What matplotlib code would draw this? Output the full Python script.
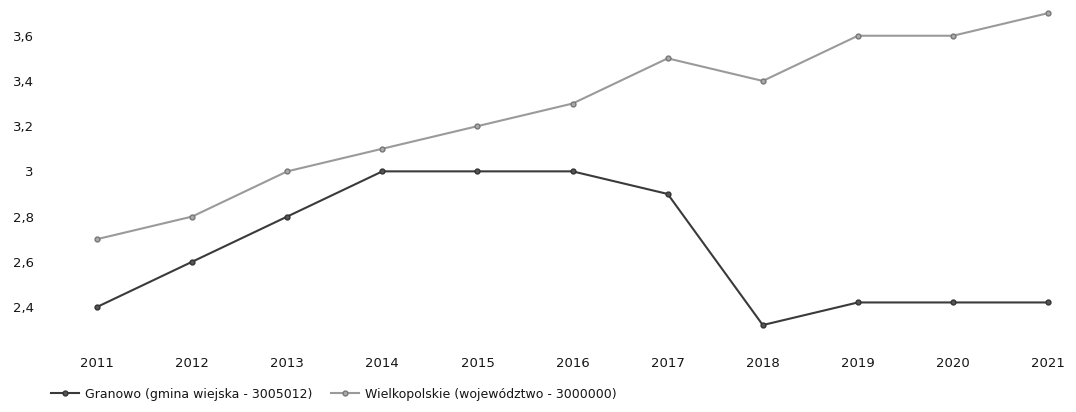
import matplotlib
matplotlib.use("Agg")
import matplotlib.pyplot as plt
from matplotlib.ticker import FuncFormatter

years = [2011, 2012, 2013, 2014, 2015, 2016, 2017, 2018, 2019, 2020, 2021]
granowo = [2.4, 2.6, 2.8, 3.0, 3.0, 3.0, 2.9, 2.32, 2.42, 2.42, 2.42]
wielkopolskie = [2.7, 2.8, 3.0, 3.1, 3.2, 3.3, 3.5, 3.4, 3.6, 3.6, 3.7]
yticks = [2.4, 2.6, 2.8, 3.0, 3.2, 3.4, 3.6]
labels = ["Granowo (gmina wiejska - 3005012)", "Wielkopolskie (województwo - 3000000)"]

plt.rcParams['font.family'] = ['DejaVu Sans']

fig = plt.figure(figsize=(10.76, 4.12), dpi=100)
ax = fig.add_axes([45/1076, 1 - 335/412, (1070 - 45)/1076, 330/412])

ax.plot(years, granowo, color="#3a3a3a", lw=1.5, marker="o", ms=3.5,
        markerfacecolor="#555555", markeredgecolor="#333333", label=labels[0])
ax.plot(years, wielkopolskie, color="#9a9a9a", lw=1.5, marker="o", ms=3.5,
        markerfacecolor="#aaaaaa", markeredgecolor="#777777", label=labels[1])

ax.set_xlim(2010.453, 2021.23)
ax.set_ylim(2.276, 3.736)
ax.set_xticks(years)
ax.set_yticks(yticks)

def fmt(v, pos):
    s = f"{v:.1f}"
    if s.endswith(".0"):
        s = s[:-2]
    return s.replace(".", ",")

ax.yaxis.set_major_formatter(FuncFormatter(fmt))
ax.tick_params(axis="both", length=0, labelsize=9.5, colors="#151515")
ax.tick_params(axis="y", pad=8)
ax.tick_params(axis="x", pad=16)
for sp in ax.spines.values():
    sp.set_visible(False)

fig.legend(loc="lower left", bbox_to_anchor=(40/1076, 0.0), ncol=2, frameon=False,
           fontsize=9, handlelength=2.2, handletextpad=0.5, columnspacing=1.5,
           labelcolor="#151515")

fig.savefig("out.png", dpi=100)
